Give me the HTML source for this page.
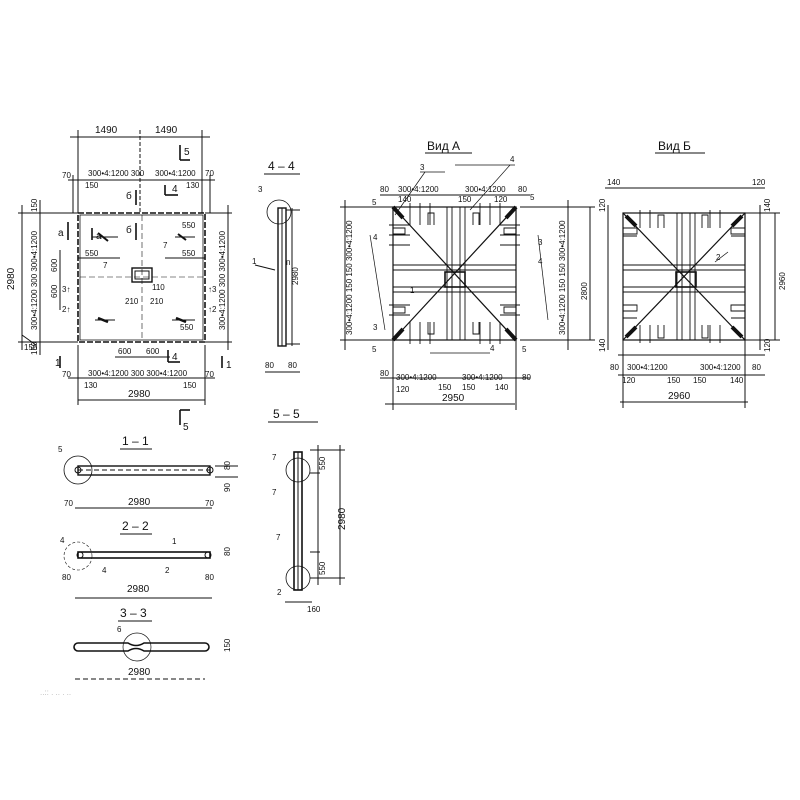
<!DOCTYPE html>
<html><head><meta charset="utf-8"><style>
html,body{margin:0;padding:0;background:#fff}
svg{display:block}
text{font-family:"Liberation Sans",sans-serif;fill:#111}
.s{font-size:8px}.m{font-size:10px}.l{font-size:12px}
</style></head><body>
<svg width="800" height="800" viewBox="0 0 800 800" stroke="#111" fill="none" stroke-width="1">
<!-- ===== PLAN ===== -->
<g>
<rect x="78" y="213" width="127" height="129" stroke-width="1.6" stroke-dasharray="6,2"/>
<rect x="80" y="215" width="123" height="125" stroke-width="0.8"/>
<!-- dims top -->
<line x1="70" y1="137" x2="210" y2="137"/><line x1="78" y1="130" x2="78" y2="213"/><line x1="140" y1="130" x2="140" y2="213" stroke-dasharray="4,2"/><line x1="202" y1="130" x2="202" y2="213"/>
<text class="m" x="95" y="133" stroke="none">1490</text><text class="m" x="155" y="133" stroke="none">1490</text>
<line x1="68" y1="180" x2="215" y2="180"/><line x1="73" y1="175" x2="73" y2="213"/><line x1="210" y1="175" x2="210" y2="213"/>
<text class="s" x="62" y="178" stroke="none">70</text><text class="s" x="88" y="176" stroke="none">300•4:1200 300</text><text class="s" x="155" y="176" stroke="none">300•4:1200</text><text class="s" x="205" y="176" stroke="none">70</text>
<text class="s" x="85" y="188" stroke="none">150</text><text class="s" x="186" y="188" stroke="none">130</text>
<!-- section marks -->
<line x1="180" y1="145" x2="180" y2="160" stroke-width="1.6"/><line x1="180" y1="160" x2="190" y2="160" stroke-width="1.6"/><text class="m" x="184" y="155" stroke="none">5</text>
<line x1="165" y1="185" x2="165" y2="195" stroke-width="1.6"/><line x1="165" y1="195" x2="178" y2="195" stroke-width="1.6"/><text class="m" x="172" y="192" stroke="none">4</text>
<line x1="136" y1="190" x2="136" y2="205" stroke-width="1.6"/><text class="m" x="126" y="199" stroke="none">б</text>
<line x1="136" y1="223" x2="136" y2="240" stroke-width="1.6"/><text class="m" x="126" y="233" stroke="none">б</text>
<line x1="68" y1="222" x2="68" y2="240" stroke-width="1.6"/><text class="m" x="58" y="236" stroke="none">а</text>
<line x1="92" y1="228" x2="92" y2="240" stroke-width="1.6"/><text class="m" x="96" y="239" stroke="none">а</text>
<!-- inner marks -->
<line x1="92" y1="237" x2="118" y2="237"/><line x1="98" y1="233" x2="108" y2="241" stroke-width="2"/>
<line x1="175" y1="237" x2="195" y2="237"/><line x1="178" y1="234" x2="186" y2="240" stroke-width="2"/>
<line x1="95" y1="320" x2="115" y2="320"/><line x1="98" y1="318" x2="108" y2="322" stroke-width="2.5"/>
<line x1="172" y1="320" x2="195" y2="320"/><line x1="176" y1="318" x2="186" y2="322" stroke-width="2.5"/>
<rect x="132" y="268" width="20" height="14" stroke-width="1.4"/><rect x="135" y="271" width="14" height="8"/>
<line x1="80" y1="277" x2="203" y2="277" stroke-dasharray="6,3" stroke-width="0.6"/>
<line x1="142" y1="215" x2="142" y2="340" stroke-dasharray="6,3" stroke-width="0.6"/>
<line x1="78" y1="258" x2="120" y2="258"/><line x1="165" y1="258" x2="205" y2="258"/>
<text class="s" x="85" y="256" stroke="none">550</text><text class="s" x="182" y="256" stroke="none">550</text>
<text class="s" x="182" y="228" stroke="none">550</text><text class="s" x="180" y="330" stroke="none">550</text>
<text class="s" x="125" y="304" stroke="none">210</text><text class="s" x="150" y="304" stroke="none">210</text>
<text class="s" x="103" y="268" stroke="none">7</text><text class="s" x="163" y="248" stroke="none">7</text>
<text class="s" x="152" y="290" stroke="none">110</text>
<!-- left dims -->
<line x1="22" y1="205" x2="22" y2="350"/><line x1="18" y1="213" x2="78" y2="213"/><line x1="18" y1="342" x2="78" y2="342"/>
<line x1="40" y1="200" x2="40" y2="355"/><line x1="60" y1="250" x2="60" y2="310"/>
<text class="m" transform="translate(14,290) rotate(-90)" stroke="none">2980</text>
<text class="s" transform="translate(37,330) rotate(-90)" stroke="none">300•4:1200 300 300•4:1200</text>
<text class="s" transform="translate(37,212) rotate(-90)" stroke="none">150</text>
<text class="s" transform="translate(37,355) rotate(-90)" stroke="none">150</text>
<text class="s" transform="translate(57,272) rotate(-90)" stroke="none">600</text>
<text class="s" transform="translate(57,298) rotate(-90)" stroke="none">600</text>
<text class="s" x="62" y="292" stroke="none">3↑</text><text class="s" x="62" y="312" stroke="none">2↑</text>
<!-- right dims -->
<line x1="228" y1="205" x2="228" y2="350"/><line x1="205" y1="213" x2="232" y2="213"/><line x1="205" y1="342" x2="232" y2="342"/>
<text class="s" transform="translate(225,330) rotate(-90)" stroke="none">300•4:1200 300 300•4:1200</text>
<text class="s" x="208" y="292" stroke="none">↑3</text><text class="s" x="208" y="312" stroke="none">↑2</text>
<!-- bottom dims -->
<line x1="115" y1="357" x2="170" y2="357"/><text class="s" x="118" y="354" stroke="none">600</text><text class="s" x="146" y="354" stroke="none">600</text>
<line x1="168" y1="350" x2="168" y2="362" stroke-width="1.6"/><line x1="168" y1="362" x2="180" y2="362" stroke-width="1.6"/><text class="m" x="172" y="360" stroke="none">4</text>
<line x1="68" y1="378" x2="215" y2="378"/><text class="s" x="62" y="377" stroke="none">70</text><text class="s" x="88" y="376" stroke="none">300•4:1200 300 300•4:1200</text><text class="s" x="205" y="377" stroke="none">70</text>
<text class="s" x="84" y="388" stroke="none">130</text><text class="s" x="183" y="388" stroke="none">150</text>
<line x1="78" y1="400" x2="205" y2="400"/><line x1="78" y1="345" x2="78" y2="405"/><line x1="205" y1="345" x2="205" y2="405"/>
<text class="m" x="128" y="397" stroke="none">2980</text>
<line x1="60" y1="356" x2="60" y2="368" stroke-width="1.6"/><text class="m" x="55" y="366" stroke="none">1</text>
<line x1="222" y1="356" x2="222" y2="368" stroke-width="1.6"/><text class="m" x="226" y="368" stroke="none">1</text>
<line x1="180" y1="410" x2="180" y2="425" stroke-width="1.6"/><line x1="180" y1="410" x2="190" y2="410" stroke-width="1.6"/><text class="m" x="183" y="430" stroke="none">5</text>
<line x1="22" y1="335" x2="36" y2="345"/><text class="s" x="24" y="350" stroke="none">150</text>
</g>

<!-- ===== 4-4 ===== -->
<text class="l" x="268" y="170" stroke="none">4 – 4</text><line x1="264" y1="174" x2="300" y2="174"/>
<rect x="278" y="208" width="8" height="138" stroke-width="1.4"/><line x1="282" y1="208" x2="282" y2="346"/>
<circle cx="279" cy="212" r="12" stroke-width="0.8"/><text class="s" x="258" y="192" stroke="none">3</text>
<line x1="292" y1="208" x2="292" y2="346"/><line x1="286" y1="210" x2="300" y2="210"/><line x1="286" y1="344" x2="300" y2="344"/>
<text class="s" transform="translate(298,285) rotate(-90)" stroke="none">2980</text>
<text class="s" x="265" y="368" stroke="none">80</text><text class="s" x="288" y="368" stroke="none">80</text><line x1="265" y1="372" x2="300" y2="372"/>
<line x1="255" y1="265" x2="275" y2="270"/><text class="s" x="252" y="264" stroke="none">1</text>
<text class="s" x="286" y="265" stroke="none">п</text>

<!-- ===== ВИД А ===== -->
<g>
<text class="l" x="427" y="150" stroke="none">Вид А</text><line x1="425" y1="153" x2="472" y2="153"/>
<rect x="393" y="207" width="123" height="133" stroke-width="1.2"/>
<line x1="393" y1="207" x2="516" y2="340" stroke-width="1.2"/><line x1="516" y1="207" x2="393" y2="340" stroke-width="1.2"/>
<line x1="393" y1="207" x2="403" y2="218" stroke-width="4"/><line x1="516" y1="207" x2="506" y2="218" stroke-width="4"/>
<line x1="393" y1="340" x2="403" y2="329" stroke-width="4"/><line x1="516" y1="340" x2="506" y2="329" stroke-width="4"/>
<rect x="445" y="272" width="20" height="15" stroke-width="1.6"/>
<g stroke-width="0.9">
<line x1="393" y1="265" x2="516" y2="265"/><line x1="393" y1="270" x2="516" y2="270"/><line x1="393" y1="287" x2="516" y2="287"/><line x1="393" y1="292" x2="516" y2="292"/>
<line x1="447" y1="207" x2="447" y2="340"/><line x1="452" y1="207" x2="452" y2="340"/><line x1="460" y1="207" x2="460" y2="340"/><line x1="465" y1="207" x2="465" y2="340"/>
<line x1="410" y1="203" x2="410" y2="225"/><line x1="420" y1="203" x2="420" y2="225"/><line x1="430" y1="203" x2="430" y2="225"/><line x1="480" y1="203" x2="480" y2="225"/><line x1="490" y1="203" x2="490" y2="225"/><line x1="500" y1="203" x2="500" y2="225"/>
<line x1="410" y1="322" x2="410" y2="344"/><line x1="420" y1="322" x2="420" y2="344"/><line x1="430" y1="322" x2="430" y2="344"/><line x1="480" y1="322" x2="480" y2="344"/><line x1="490" y1="322" x2="490" y2="344"/><line x1="500" y1="322" x2="500" y2="344"/>
<line x1="389" y1="225" x2="410" y2="225"/><line x1="389" y1="235" x2="410" y2="235"/><line x1="389" y1="245" x2="410" y2="245"/><line x1="389" y1="305" x2="410" y2="305"/><line x1="389" y1="315" x2="410" y2="315"/>
<line x1="500" y1="225" x2="520" y2="225"/><line x1="500" y1="235" x2="520" y2="235"/><line x1="500" y1="245" x2="520" y2="245"/><line x1="500" y1="305" x2="520" y2="305"/><line x1="500" y1="315" x2="520" y2="315"/>
<path d="M428 225 v-12 h6 v12 M473 225 v-12 h6 v12 M428 322 v12 h6 v-12 M473 322 v12 h6 v-12"/>
<path d="M393 228 h12 v6 h-12 M393 307 h12 v6 h-12 M516 228 h-12 v6 h12 M516 307 h-12 v6 h12"/>
</g>
<!-- leaders -->
<line x1="425" y1="172" x2="395" y2="215" stroke-width="0.7"/><line x1="420" y1="172" x2="445" y2="172" stroke-width="0.7"/><text class="s" x="420" y="170" stroke="none">3</text>
<line x1="510" y1="165" x2="470" y2="210" stroke-width="0.7"/><line x1="455" y1="165" x2="515" y2="165" stroke-width="0.7"/><text class="s" x="510" y="162" stroke="none">4</text>
<line x1="370" y1="235" x2="385" y2="330" stroke-width="0.7"/><line x1="538" y1="235" x2="548" y2="320" stroke-width="0.7"/>
<line x1="430" y1="353" x2="490" y2="353" stroke-width="0.7"/><text class="s" x="490" y="351" stroke="none">4</text>
<text class="s" x="372" y="205" stroke="none">5</text><text class="s" x="530" y="200" stroke="none">5</text><text class="s" x="372" y="352" stroke="none">5</text><text class="s" x="522" y="352" stroke="none">5</text>
<text class="s" x="373" y="240" stroke="none">4</text><text class="s" x="373" y="330" stroke="none">3</text><text class="s" x="538" y="245" stroke="none">3</text><text class="s" x="538" y="264" stroke="none">4</text>
<text class="s" x="410" y="293" stroke="none">1</text>
<!-- dims -->
<line x1="380" y1="195" x2="530" y2="195"/><text class="s" x="380" y="192" stroke="none">80</text><text class="s" x="398" y="192" stroke="none">300•4:1200</text><text class="s" x="465" y="192" stroke="none">300•4:1200</text><text class="s" x="518" y="192" stroke="none">80</text>
<text class="s" x="398" y="202" stroke="none">140</text><text class="s" x="458" y="202" stroke="none">150</text><text class="s" x="494" y="202" stroke="none">120</text>
<line x1="380" y1="378" x2="530" y2="378"/><text class="s" x="380" y="376" stroke="none">80</text><text class="s" x="396" y="380" stroke="none">300•4:1200</text><text class="s" x="462" y="380" stroke="none">300•4:1200</text><text class="s" x="522" y="380" stroke="none">80</text>
<text class="s" x="396" y="392" stroke="none">120</text><text class="s" x="438" y="390" stroke="none">150</text><text class="s" x="462" y="390" stroke="none">150</text><text class="s" x="495" y="390" stroke="none">140</text>
<line x1="385" y1="404" x2="515" y2="404"/><text class="m" x="442" y="401" stroke="none">2950</text>
<line x1="393" y1="340" x2="393" y2="410"/><line x1="516" y1="340" x2="516" y2="410"/>
<line x1="345" y1="200" x2="345" y2="350"/><line x1="340" y1="207" x2="393" y2="207"/><line x1="340" y1="340" x2="393" y2="340"/>
<text class="s" transform="translate(352,335) rotate(-90)" stroke="none">300•4:1200 150 150 300•4:1200</text>
<line x1="568" y1="200" x2="568" y2="350"/><line x1="590" y1="207" x2="590" y2="340"/><line x1="520" y1="207" x2="595" y2="207"/><line x1="520" y1="340" x2="595" y2="340"/>
<text class="s" transform="translate(565,335) rotate(-90)" stroke="none">300•4:1200 150 150 300•4:1200</text>
<text class="s" transform="translate(587,300) rotate(-90)" stroke="none">2800</text>
</g>

<!-- ===== ВИД Б ===== -->
<g>
<text class="l" x="658" y="150" stroke="none">Вид Б</text><line x1="655" y1="153" x2="705" y2="153"/>
<rect x="623" y="213" width="122" height="127" stroke-width="1.2"/>
<line x1="623" y1="213" x2="745" y2="340" stroke-width="1.2"/><line x1="745" y1="213" x2="623" y2="340" stroke-width="1.2"/>
<line x1="626" y1="216" x2="636" y2="226" stroke-width="4"/><line x1="742" y1="216" x2="732" y2="226" stroke-width="4"/>
<line x1="626" y1="337" x2="636" y2="327" stroke-width="4"/><line x1="742" y1="337" x2="732" y2="327" stroke-width="4"/>
<rect x="676" y="272" width="20" height="15" stroke-width="1.6"/>
<g stroke-width="0.9">
<line x1="623" y1="265" x2="745" y2="265"/><line x1="623" y1="270" x2="745" y2="270"/><line x1="623" y1="287" x2="745" y2="287"/><line x1="623" y1="292" x2="745" y2="292"/>
<line x1="677" y1="213" x2="677" y2="340"/><line x1="682" y1="213" x2="682" y2="340"/><line x1="690" y1="213" x2="690" y2="340"/><line x1="695" y1="213" x2="695" y2="340"/>
<line x1="640" y1="210" x2="640" y2="228"/><line x1="650" y1="210" x2="650" y2="228"/><line x1="710" y1="210" x2="710" y2="228"/><line x1="720" y1="210" x2="720" y2="228"/>
<line x1="640" y1="325" x2="640" y2="343"/><line x1="650" y1="325" x2="650" y2="343"/><line x1="710" y1="325" x2="710" y2="343"/><line x1="720" y1="325" x2="720" y2="343"/>
<path d="M658 228 v-13 h6 v13 M702 228 v-13 h6 v13 M658 325 v13 h6 v-13 M702 325 v13 h6 v-13"/>
<path d="M623 228 h14 v6 h-14 M623 236 h14 M623 305 h14 v6 h-14 M623 318 h14 M745 228 h-14 v6 h14 M745 236 h-14 M745 305 h-14 v6 h14 M745 318 h-14"/>
</g>
<line x1="715" y1="262" x2="728" y2="252" stroke-width="0.7"/><text class="s" x="716" y="260" stroke="none">2</text>
<line x1="605" y1="188" x2="765" y2="188"/><text class="s" x="607" y="185" stroke="none">140</text><text class="s" x="752" y="185" stroke="none">120</text>
<line x1="618" y1="355" x2="765" y2="355"/><line x1="618" y1="375" x2="765" y2="375"/>
<text class="s" x="610" y="370" stroke="none">80</text><text class="s" x="627" y="370" stroke="none">300•4:1200</text><text class="s" x="700" y="370" stroke="none">300•4:1200</text><text class="s" x="752" y="370" stroke="none">80</text>
<text class="s" x="622" y="383" stroke="none">120</text><text class="s" x="667" y="383" stroke="none">150</text><text class="s" x="693" y="383" stroke="none">150</text><text class="s" x="730" y="383" stroke="none">140</text>
<line x1="620" y1="402" x2="748" y2="402"/><text class="m" x="668" y="399" stroke="none">2960</text>
<line x1="623" y1="340" x2="623" y2="408"/><line x1="745" y1="340" x2="745" y2="408"/>
<line x1="608" y1="205" x2="608" y2="350"/><line x1="760" y1="205" x2="760" y2="350"/><line x1="745" y1="213" x2="780" y2="213"/><line x1="745" y1="340" x2="780" y2="340"/><line x1="775" y1="213" x2="775" y2="340"/>
<text class="s" transform="translate(605,212) rotate(-90)" stroke="none">120</text><text class="s" transform="translate(605,352) rotate(-90)" stroke="none">140</text>
<text class="s" transform="translate(770,212) rotate(-90)" stroke="none">140</text><text class="s" transform="translate(770,352) rotate(-90)" stroke="none">120</text>
<text class="s" transform="translate(785,290) rotate(-90)" stroke="none">2960</text>
</g>

<!-- ===== 1-1 ===== -->
<text class="l" x="122" y="445" stroke="none">1 – 1</text><line x1="120" y1="449" x2="152" y2="449"/>
<rect x="78" y="466" width="132" height="9" stroke-width="1.4"/><line x1="78" y1="470" x2="210" y2="470" stroke-dasharray="5,3"/>
<circle cx="78" cy="470" r="14" stroke-width="0.8"/><circle cx="78" cy="470" r="3"/><circle cx="210" cy="470" r="3"/>
<text class="s" x="58" y="452" stroke="none">5</text>
<line x1="75" y1="508" x2="212" y2="508"/><text class="m" x="128" y="505" stroke="none">2980</text><text class="s" x="64" y="506" stroke="none">70</text><text class="s" x="205" y="506" stroke="none">70</text>
<line x1="215" y1="466" x2="238" y2="466"/><line x1="215" y1="477" x2="238" y2="477"/><text class="s" transform="translate(230,470) rotate(-90)" stroke="none">80</text><text class="s" transform="translate(230,492) rotate(-90)" stroke="none">90</text>

<!-- ===== 2-2 ===== -->
<text class="l" x="122" y="530" stroke="none">2 – 2</text><line x1="120" y1="534" x2="152" y2="534"/>
<rect x="78" y="552" width="132" height="6" stroke-width="1.6"/><circle cx="80" cy="555" r="3"/><circle cx="208" cy="555" r="3"/>
<circle cx="78" cy="556" r="14" stroke-width="0.6" stroke-dasharray="3,2"/>
<text class="s" x="60" y="543" stroke="none">4</text><text class="s" x="102" y="573" stroke="none">4</text><text class="s" x="172" y="544" stroke="none">1</text><text class="s" x="165" y="573" stroke="none">2</text>
<line x1="75" y1="598" x2="212" y2="598"/><text class="m" x="127" y="592" stroke="none">2980</text><text class="s" x="62" y="580" stroke="none">80</text><text class="s" x="205" y="580" stroke="none">80</text>
<text class="s" transform="translate(230,556) rotate(-90)" stroke="none">80</text>

<!-- ===== 3-3 ===== -->
<text class="l" x="120" y="617" stroke="none">3 – 3</text><line x1="118" y1="621" x2="152" y2="621"/>
<path d="M78 643 L128 643 Q136 648 144 643 L205 643 A4 4 0 0 1 205 651 L144 651 Q136 646 128 651 L78 651 A4 4 0 0 1 78 643 Z" stroke-width="1.6"/>
<circle cx="137" cy="647" r="14" stroke-width="0.7"/><text class="s" x="117" y="632" stroke="none">6</text>
<line x1="75" y1="679" x2="205" y2="679" stroke-dasharray="5,3"/><text class="m" x="128" y="675" stroke="none">2980</text>
<text class="s" transform="translate(230,652) rotate(-90)" stroke="none">150</text>

<!-- ===== 5-5 ===== -->
<text class="l" x="273" y="418" stroke="none">5 – 5</text><line x1="268" y1="422" x2="318" y2="422"/>
<rect x="294" y="452" width="8" height="138" stroke-width="1.6"/><line x1="298" y1="452" x2="298" y2="590"/>
<circle cx="298" cy="470" r="12" stroke-width="0.8"/><circle cx="298" cy="578" r="12" stroke-width="0.8"/>
<text class="s" x="272" y="460" stroke="none">7</text><text class="s" x="272" y="495" stroke="none">7</text><text class="s" x="276" y="540" stroke="none">7</text><text class="s" x="277" y="595" stroke="none">2</text>
<line x1="310" y1="450" x2="345" y2="450"/><line x1="310" y1="473" x2="320" y2="473"/><line x1="310" y1="552" x2="320" y2="552"/><line x1="310" y1="578" x2="345" y2="578"/>
<line x1="318" y1="445" x2="318" y2="585"/><line x1="340" y1="445" x2="340" y2="585"/>
<text class="s" transform="translate(325,470) rotate(-90)" stroke="none">550</text><text class="s" transform="translate(325,575) rotate(-90)" stroke="none">550</text>
<text class="m" transform="translate(345,530) rotate(-90)" stroke="none">2980</text>
<line x1="285" y1="602" x2="312" y2="602"/><text class="s" x="307" y="612" stroke="none">160</text>

<text class="s" x="40" y="695" fill="#bbb" stroke="none" style="fill:#bbb">..:: . ..  . ..</text>
</svg>
</body></html>
